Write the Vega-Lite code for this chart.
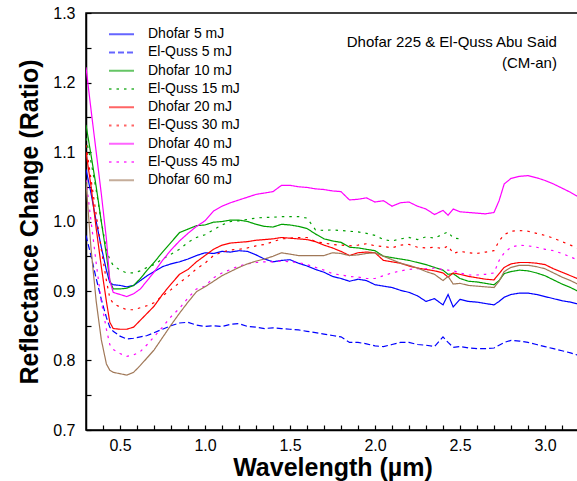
{
"$schema": "https://vega.github.io/schema/vega-lite/v6.json",
"autosize": "none",
"padding": {"left": 86, "top": 13, "right": 0, "bottom": 51},
"width": 493,
"height": 417,
"config": {"font": "Liberation Sans", "view": {"stroke": "black", "strokeWidth": 1.5}},
"layer": [
{
"data": {"values": [
{"series":"Dhofar 5 mJ","w":0.30,"r":1.075},{"series":"Dhofar 5 mJ","w":0.33,"r":1.04},{"series":"Dhofar 5 mJ","w":0.36,"r":1.0},{"series":"Dhofar 5 mJ","w":0.39,"r":0.963},{"series":"Dhofar 5 mJ","w":0.42,"r":0.93},{"series":"Dhofar 5 mJ","w":0.44,"r":0.912},{"series":"Dhofar 5 mJ","w":0.46,"r":0.909},{"series":"Dhofar 5 mJ","w":0.50,"r":0.908},{"series":"Dhofar 5 mJ","w":0.54,"r":0.906},{"series":"Dhofar 5 mJ","w":0.58,"r":0.908},{"series":"Dhofar 5 mJ","w":0.62,"r":0.915},{"series":"Dhofar 5 mJ","w":0.66,"r":0.922},{"series":"Dhofar 5 mJ","w":0.70,"r":0.928},{"series":"Dhofar 5 mJ","w":0.75,"r":0.935},{"series":"Dhofar 5 mJ","w":0.80,"r":0.939},{"series":"Dhofar 5 mJ","w":0.85,"r":0.942},{"series":"Dhofar 5 mJ","w":0.90,"r":0.946},{"series":"Dhofar 5 mJ","w":0.95,"r":0.951},{"series":"Dhofar 5 mJ","w":1.00,"r":0.955},{"series":"Dhofar 5 mJ","w":1.05,"r":0.954},{"series":"Dhofar 5 mJ","w":1.10,"r":0.957},{"series":"Dhofar 5 mJ","w":1.15,"r":0.956},{"series":"Dhofar 5 mJ","w":1.20,"r":0.958},{"series":"Dhofar 5 mJ","w":1.25,"r":0.957},{"series":"Dhofar 5 mJ","w":1.30,"r":0.952},{"series":"Dhofar 5 mJ","w":1.35,"r":0.946},{"series":"Dhofar 5 mJ","w":1.40,"r":0.942},{"series":"Dhofar 5 mJ","w":1.45,"r":0.944},{"series":"Dhofar 5 mJ","w":1.50,"r":0.945},{"series":"Dhofar 5 mJ","w":1.55,"r":0.94},{"series":"Dhofar 5 mJ","w":1.60,"r":0.936},{"series":"Dhofar 5 mJ","w":1.65,"r":0.931},{"series":"Dhofar 5 mJ","w":1.70,"r":0.927},{"series":"Dhofar 5 mJ","w":1.75,"r":0.921},{"series":"Dhofar 5 mJ","w":1.80,"r":0.918},{"series":"Dhofar 5 mJ","w":1.85,"r":0.914},{"series":"Dhofar 5 mJ","w":1.90,"r":0.917},{"series":"Dhofar 5 mJ","w":1.95,"r":0.915},{"series":"Dhofar 5 mJ","w":2.00,"r":0.909},{"series":"Dhofar 5 mJ","w":2.05,"r":0.907},{"series":"Dhofar 5 mJ","w":2.10,"r":0.905},{"series":"Dhofar 5 mJ","w":2.15,"r":0.901},{"series":"Dhofar 5 mJ","w":2.20,"r":0.898},{"series":"Dhofar 5 mJ","w":2.25,"r":0.893},{"series":"Dhofar 5 mJ","w":2.30,"r":0.885},{"series":"Dhofar 5 mJ","w":2.35,"r":0.889},{"series":"Dhofar 5 mJ","w":2.40,"r":0.88},{"series":"Dhofar 5 mJ","w":2.43,"r":0.895},{"series":"Dhofar 5 mJ","w":2.46,"r":0.877},{"series":"Dhofar 5 mJ","w":2.50,"r":0.888},{"series":"Dhofar 5 mJ","w":2.55,"r":0.885},{"series":"Dhofar 5 mJ","w":2.60,"r":0.884},{"series":"Dhofar 5 mJ","w":2.65,"r":0.882},{"series":"Dhofar 5 mJ","w":2.70,"r":0.88},{"series":"Dhofar 5 mJ","w":2.73,"r":0.885},{"series":"Dhofar 5 mJ","w":2.76,"r":0.891},{"series":"Dhofar 5 mJ","w":2.80,"r":0.895},{"series":"Dhofar 5 mJ","w":2.85,"r":0.897},{"series":"Dhofar 5 mJ","w":2.90,"r":0.897},{"series":"Dhofar 5 mJ","w":2.95,"r":0.895},{"series":"Dhofar 5 mJ","w":3.00,"r":0.892},{"series":"Dhofar 5 mJ","w":3.05,"r":0.889},{"series":"Dhofar 5 mJ","w":3.10,"r":0.886},{"series":"Dhofar 5 mJ","w":3.15,"r":0.884},{"series":"Dhofar 5 mJ","w":3.20,"r":0.881},
{"series":"El-Quss 5 mJ","w":0.30,"r":0.98},{"series":"El-Quss 5 mJ","w":0.33,"r":0.95},{"series":"El-Quss 5 mJ","w":0.36,"r":0.918},{"series":"El-Quss 5 mJ","w":0.39,"r":0.888},{"series":"El-Quss 5 mJ","w":0.42,"r":0.862},{"series":"El-Quss 5 mJ","w":0.44,"r":0.848},{"series":"El-Quss 5 mJ","w":0.46,"r":0.842},{"series":"El-Quss 5 mJ","w":0.50,"r":0.835},{"series":"El-Quss 5 mJ","w":0.54,"r":0.831},{"series":"El-Quss 5 mJ","w":0.58,"r":0.832},{"series":"El-Quss 5 mJ","w":0.62,"r":0.834},{"series":"El-Quss 5 mJ","w":0.66,"r":0.836},{"series":"El-Quss 5 mJ","w":0.70,"r":0.84},{"series":"El-Quss 5 mJ","w":0.75,"r":0.845},{"series":"El-Quss 5 mJ","w":0.80,"r":0.85},{"series":"El-Quss 5 mJ","w":0.85,"r":0.854},{"series":"El-Quss 5 mJ","w":0.90,"r":0.855},{"series":"El-Quss 5 mJ","w":0.95,"r":0.851},{"series":"El-Quss 5 mJ","w":1.00,"r":0.849},{"series":"El-Quss 5 mJ","w":1.05,"r":0.85},{"series":"El-Quss 5 mJ","w":1.10,"r":0.849},{"series":"El-Quss 5 mJ","w":1.15,"r":0.852},{"series":"El-Quss 5 mJ","w":1.20,"r":0.853},{"series":"El-Quss 5 mJ","w":1.25,"r":0.849},{"series":"El-Quss 5 mJ","w":1.30,"r":0.848},{"series":"El-Quss 5 mJ","w":1.35,"r":0.846},{"series":"El-Quss 5 mJ","w":1.40,"r":0.847},{"series":"El-Quss 5 mJ","w":1.45,"r":0.846},{"series":"El-Quss 5 mJ","w":1.50,"r":0.845},{"series":"El-Quss 5 mJ","w":1.55,"r":0.844},{"series":"El-Quss 5 mJ","w":1.60,"r":0.842},{"series":"El-Quss 5 mJ","w":1.65,"r":0.84},{"series":"El-Quss 5 mJ","w":1.70,"r":0.838},{"series":"El-Quss 5 mJ","w":1.75,"r":0.836},{"series":"El-Quss 5 mJ","w":1.80,"r":0.834},{"series":"El-Quss 5 mJ","w":1.85,"r":0.826},{"series":"El-Quss 5 mJ","w":1.90,"r":0.826},{"series":"El-Quss 5 mJ","w":1.95,"r":0.824},{"series":"El-Quss 5 mJ","w":2.00,"r":0.821},{"series":"El-Quss 5 mJ","w":2.05,"r":0.82},{"series":"El-Quss 5 mJ","w":2.10,"r":0.823},{"series":"El-Quss 5 mJ","w":2.15,"r":0.826},{"series":"El-Quss 5 mJ","w":2.20,"r":0.826},{"series":"El-Quss 5 mJ","w":2.25,"r":0.823},{"series":"El-Quss 5 mJ","w":2.30,"r":0.822},{"series":"El-Quss 5 mJ","w":2.35,"r":0.82},{"series":"El-Quss 5 mJ","w":2.40,"r":0.834},{"series":"El-Quss 5 mJ","w":2.43,"r":0.826},{"series":"El-Quss 5 mJ","w":2.46,"r":0.819},{"series":"El-Quss 5 mJ","w":2.50,"r":0.82},{"series":"El-Quss 5 mJ","w":2.55,"r":0.818},{"series":"El-Quss 5 mJ","w":2.60,"r":0.817},{"series":"El-Quss 5 mJ","w":2.65,"r":0.817},{"series":"El-Quss 5 mJ","w":2.70,"r":0.818},{"series":"El-Quss 5 mJ","w":2.73,"r":0.822},{"series":"El-Quss 5 mJ","w":2.76,"r":0.826},{"series":"El-Quss 5 mJ","w":2.80,"r":0.829},{"series":"El-Quss 5 mJ","w":2.85,"r":0.828},{"series":"El-Quss 5 mJ","w":2.90,"r":0.826},{"series":"El-Quss 5 mJ","w":2.95,"r":0.823},{"series":"El-Quss 5 mJ","w":3.00,"r":0.82},{"series":"El-Quss 5 mJ","w":3.05,"r":0.817},{"series":"El-Quss 5 mJ","w":3.10,"r":0.814},{"series":"El-Quss 5 mJ","w":3.15,"r":0.811},{"series":"El-Quss 5 mJ","w":3.20,"r":0.807},
{"series":"Dhofar 10 mJ","w":0.30,"r":1.139},{"series":"Dhofar 10 mJ","w":0.33,"r":1.095},{"series":"Dhofar 10 mJ","w":0.36,"r":1.05},{"series":"Dhofar 10 mJ","w":0.39,"r":1.0},{"series":"Dhofar 10 mJ","w":0.42,"r":0.952},{"series":"Dhofar 10 mJ","w":0.44,"r":0.915},{"series":"Dhofar 10 mJ","w":0.46,"r":0.903},{"series":"Dhofar 10 mJ","w":0.50,"r":0.903},{"series":"Dhofar 10 mJ","w":0.54,"r":0.904},{"series":"Dhofar 10 mJ","w":0.58,"r":0.908},{"series":"Dhofar 10 mJ","w":0.62,"r":0.918},{"series":"Dhofar 10 mJ","w":0.66,"r":0.93},{"series":"Dhofar 10 mJ","w":0.70,"r":0.941},{"series":"Dhofar 10 mJ","w":0.75,"r":0.956},{"series":"Dhofar 10 mJ","w":0.80,"r":0.97},{"series":"Dhofar 10 mJ","w":0.85,"r":0.984},{"series":"Dhofar 10 mJ","w":0.90,"r":0.989},{"series":"Dhofar 10 mJ","w":0.95,"r":0.994},{"series":"Dhofar 10 mJ","w":1.00,"r":0.995},{"series":"Dhofar 10 mJ","w":1.05,"r":0.999},{"series":"Dhofar 10 mJ","w":1.10,"r":1.0},{"series":"Dhofar 10 mJ","w":1.15,"r":1.002},{"series":"Dhofar 10 mJ","w":1.20,"r":1.002},{"series":"Dhofar 10 mJ","w":1.25,"r":1.0},{"series":"Dhofar 10 mJ","w":1.30,"r":0.996},{"series":"Dhofar 10 mJ","w":1.35,"r":0.993},{"series":"Dhofar 10 mJ","w":1.40,"r":0.992},{"series":"Dhofar 10 mJ","w":1.45,"r":0.996},{"series":"Dhofar 10 mJ","w":1.50,"r":0.995},{"series":"Dhofar 10 mJ","w":1.55,"r":0.993},{"series":"Dhofar 10 mJ","w":1.60,"r":0.99},{"series":"Dhofar 10 mJ","w":1.65,"r":0.982},{"series":"Dhofar 10 mJ","w":1.70,"r":0.975},{"series":"Dhofar 10 mJ","w":1.75,"r":0.972},{"series":"Dhofar 10 mJ","w":1.80,"r":0.97},{"series":"Dhofar 10 mJ","w":1.85,"r":0.963},{"series":"Dhofar 10 mJ","w":1.90,"r":0.962},{"series":"Dhofar 10 mJ","w":1.95,"r":0.96},{"series":"Dhofar 10 mJ","w":2.00,"r":0.958},{"series":"Dhofar 10 mJ","w":2.05,"r":0.95},{"series":"Dhofar 10 mJ","w":2.10,"r":0.948},{"series":"Dhofar 10 mJ","w":2.15,"r":0.946},{"series":"Dhofar 10 mJ","w":2.20,"r":0.944},{"series":"Dhofar 10 mJ","w":2.25,"r":0.941},{"series":"Dhofar 10 mJ","w":2.30,"r":0.938},{"series":"Dhofar 10 mJ","w":2.35,"r":0.934},{"series":"Dhofar 10 mJ","w":2.40,"r":0.93},{"series":"Dhofar 10 mJ","w":2.43,"r":0.924},{"series":"Dhofar 10 mJ","w":2.46,"r":0.925},{"series":"Dhofar 10 mJ","w":2.50,"r":0.918},{"series":"Dhofar 10 mJ","w":2.55,"r":0.914},{"series":"Dhofar 10 mJ","w":2.60,"r":0.913},{"series":"Dhofar 10 mJ","w":2.65,"r":0.911},{"series":"Dhofar 10 mJ","w":2.70,"r":0.909},{"series":"Dhofar 10 mJ","w":2.73,"r":0.915},{"series":"Dhofar 10 mJ","w":2.76,"r":0.925},{"series":"Dhofar 10 mJ","w":2.80,"r":0.928},{"series":"Dhofar 10 mJ","w":2.85,"r":0.93},{"series":"Dhofar 10 mJ","w":2.90,"r":0.929},{"series":"Dhofar 10 mJ","w":2.95,"r":0.926},{"series":"Dhofar 10 mJ","w":3.00,"r":0.922},{"series":"Dhofar 10 mJ","w":3.05,"r":0.916},{"series":"Dhofar 10 mJ","w":3.10,"r":0.91},{"series":"Dhofar 10 mJ","w":3.15,"r":0.905},{"series":"Dhofar 10 mJ","w":3.20,"r":0.899},
{"series":"El-Quss 15 mJ","w":0.30,"r":1.12},{"series":"El-Quss 15 mJ","w":0.33,"r":1.085},{"series":"El-Quss 15 mJ","w":0.36,"r":1.045},{"series":"El-Quss 15 mJ","w":0.39,"r":1.0},{"series":"El-Quss 15 mJ","w":0.42,"r":0.96},{"series":"El-Quss 15 mJ","w":0.44,"r":0.945},{"series":"El-Quss 15 mJ","w":0.46,"r":0.937},{"series":"El-Quss 15 mJ","w":0.50,"r":0.93},{"series":"El-Quss 15 mJ","w":0.54,"r":0.926},{"series":"El-Quss 15 mJ","w":0.58,"r":0.926},{"series":"El-Quss 15 mJ","w":0.62,"r":0.929},{"series":"El-Quss 15 mJ","w":0.66,"r":0.934},{"series":"El-Quss 15 mJ","w":0.70,"r":0.938},{"series":"El-Quss 15 mJ","w":0.75,"r":0.946},{"series":"El-Quss 15 mJ","w":0.80,"r":0.953},{"series":"El-Quss 15 mJ","w":0.85,"r":0.96},{"series":"El-Quss 15 mJ","w":0.90,"r":0.97},{"series":"El-Quss 15 mJ","w":0.95,"r":0.977},{"series":"El-Quss 15 mJ","w":1.00,"r":0.981},{"series":"El-Quss 15 mJ","w":1.05,"r":0.988},{"series":"El-Quss 15 mJ","w":1.10,"r":0.995},{"series":"El-Quss 15 mJ","w":1.15,"r":1.0},{"series":"El-Quss 15 mJ","w":1.20,"r":1.001},{"series":"El-Quss 15 mJ","w":1.25,"r":1.003},{"series":"El-Quss 15 mJ","w":1.30,"r":1.005},{"series":"El-Quss 15 mJ","w":1.35,"r":1.006},{"series":"El-Quss 15 mJ","w":1.40,"r":1.006},{"series":"El-Quss 15 mJ","w":1.45,"r":1.007},{"series":"El-Quss 15 mJ","w":1.50,"r":1.007},{"series":"El-Quss 15 mJ","w":1.55,"r":1.007},{"series":"El-Quss 15 mJ","w":1.60,"r":1.005},{"series":"El-Quss 15 mJ","w":1.65,"r":0.988},{"series":"El-Quss 15 mJ","w":1.70,"r":0.987},{"series":"El-Quss 15 mJ","w":1.75,"r":0.988},{"series":"El-Quss 15 mJ","w":1.80,"r":0.987},{"series":"El-Quss 15 mJ","w":1.85,"r":0.986},{"series":"El-Quss 15 mJ","w":1.90,"r":0.985},{"series":"El-Quss 15 mJ","w":1.95,"r":0.983},{"series":"El-Quss 15 mJ","w":2.00,"r":0.98},{"series":"El-Quss 15 mJ","w":2.05,"r":0.974},{"series":"El-Quss 15 mJ","w":2.10,"r":0.972},{"series":"El-Quss 15 mJ","w":2.15,"r":0.975},{"series":"El-Quss 15 mJ","w":2.20,"r":0.977},{"series":"El-Quss 15 mJ","w":2.25,"r":0.974},{"series":"El-Quss 15 mJ","w":2.30,"r":0.978},{"series":"El-Quss 15 mJ","w":2.35,"r":0.976},{"series":"El-Quss 15 mJ","w":2.40,"r":0.982},{"series":"El-Quss 15 mJ","w":2.43,"r":0.985},{"series":"El-Quss 15 mJ","w":2.46,"r":0.976},{"series":"El-Quss 15 mJ","w":2.50,"r":0.975},
{"series":"Dhofar 20 mJ","w":0.30,"r":1.1},{"series":"Dhofar 20 mJ","w":0.33,"r":1.05},{"series":"Dhofar 20 mJ","w":0.36,"r":0.99},{"series":"Dhofar 20 mJ","w":0.39,"r":0.935},{"series":"Dhofar 20 mJ","w":0.42,"r":0.885},{"series":"Dhofar 20 mJ","w":0.44,"r":0.855},{"series":"Dhofar 20 mJ","w":0.46,"r":0.846},{"series":"Dhofar 20 mJ","w":0.50,"r":0.845},{"series":"Dhofar 20 mJ","w":0.54,"r":0.845},{"series":"Dhofar 20 mJ","w":0.58,"r":0.848},{"series":"Dhofar 20 mJ","w":0.62,"r":0.858},{"series":"Dhofar 20 mJ","w":0.66,"r":0.868},{"series":"Dhofar 20 mJ","w":0.70,"r":0.878},{"series":"Dhofar 20 mJ","w":0.75,"r":0.895},{"series":"Dhofar 20 mJ","w":0.80,"r":0.91},{"series":"Dhofar 20 mJ","w":0.85,"r":0.924},{"series":"Dhofar 20 mJ","w":0.90,"r":0.931},{"series":"Dhofar 20 mJ","w":0.95,"r":0.942},{"series":"Dhofar 20 mJ","w":1.00,"r":0.951},{"series":"Dhofar 20 mJ","w":1.05,"r":0.96},{"series":"Dhofar 20 mJ","w":1.10,"r":0.966},{"series":"Dhofar 20 mJ","w":1.15,"r":0.969},{"series":"Dhofar 20 mJ","w":1.20,"r":0.97},{"series":"Dhofar 20 mJ","w":1.25,"r":0.971},{"series":"Dhofar 20 mJ","w":1.30,"r":0.973},{"series":"Dhofar 20 mJ","w":1.35,"r":0.974},{"series":"Dhofar 20 mJ","w":1.40,"r":0.975},{"series":"Dhofar 20 mJ","w":1.45,"r":0.977},{"series":"Dhofar 20 mJ","w":1.50,"r":0.976},{"series":"Dhofar 20 mJ","w":1.55,"r":0.975},{"series":"Dhofar 20 mJ","w":1.60,"r":0.974},{"series":"Dhofar 20 mJ","w":1.65,"r":0.971},{"series":"Dhofar 20 mJ","w":1.70,"r":0.966},{"series":"Dhofar 20 mJ","w":1.75,"r":0.962},{"series":"Dhofar 20 mJ","w":1.80,"r":0.957},{"series":"Dhofar 20 mJ","w":1.85,"r":0.951},{"series":"Dhofar 20 mJ","w":1.90,"r":0.955},{"series":"Dhofar 20 mJ","w":1.95,"r":0.956},{"series":"Dhofar 20 mJ","w":2.00,"r":0.955},{"series":"Dhofar 20 mJ","w":2.05,"r":0.944},{"series":"Dhofar 20 mJ","w":2.10,"r":0.942},{"series":"Dhofar 20 mJ","w":2.15,"r":0.94},{"series":"Dhofar 20 mJ","w":2.20,"r":0.936},{"series":"Dhofar 20 mJ","w":2.25,"r":0.933},{"series":"Dhofar 20 mJ","w":2.30,"r":0.931},{"series":"Dhofar 20 mJ","w":2.35,"r":0.929},{"series":"Dhofar 20 mJ","w":2.40,"r":0.926},{"series":"Dhofar 20 mJ","w":2.43,"r":0.92},{"series":"Dhofar 20 mJ","w":2.46,"r":0.926},{"series":"Dhofar 20 mJ","w":2.50,"r":0.924},{"series":"Dhofar 20 mJ","w":2.55,"r":0.921},{"series":"Dhofar 20 mJ","w":2.60,"r":0.919},{"series":"Dhofar 20 mJ","w":2.65,"r":0.917},{"series":"Dhofar 20 mJ","w":2.70,"r":0.916},{"series":"Dhofar 20 mJ","w":2.73,"r":0.925},{"series":"Dhofar 20 mJ","w":2.76,"r":0.934},{"series":"Dhofar 20 mJ","w":2.80,"r":0.939},{"series":"Dhofar 20 mJ","w":2.85,"r":0.941},{"series":"Dhofar 20 mJ","w":2.90,"r":0.941},{"series":"Dhofar 20 mJ","w":2.95,"r":0.94},{"series":"Dhofar 20 mJ","w":3.00,"r":0.938},{"series":"Dhofar 20 mJ","w":3.05,"r":0.932},{"series":"Dhofar 20 mJ","w":3.10,"r":0.927},{"series":"Dhofar 20 mJ","w":3.15,"r":0.922},{"series":"Dhofar 20 mJ","w":3.20,"r":0.917},
{"series":"El-Quss 30 mJ","w":0.30,"r":1.11},{"series":"El-Quss 30 mJ","w":0.33,"r":1.06},{"series":"El-Quss 30 mJ","w":0.36,"r":1.01},{"series":"El-Quss 30 mJ","w":0.39,"r":0.96},{"series":"El-Quss 30 mJ","w":0.42,"r":0.915},{"series":"El-Quss 30 mJ","w":0.44,"r":0.89},{"series":"El-Quss 30 mJ","w":0.46,"r":0.882},{"series":"El-Quss 30 mJ","w":0.50,"r":0.877},{"series":"El-Quss 30 mJ","w":0.54,"r":0.873},{"series":"El-Quss 30 mJ","w":0.58,"r":0.873},{"series":"El-Quss 30 mJ","w":0.62,"r":0.876},{"series":"El-Quss 30 mJ","w":0.66,"r":0.879},{"series":"El-Quss 30 mJ","w":0.70,"r":0.883},{"series":"El-Quss 30 mJ","w":0.75,"r":0.893},{"series":"El-Quss 30 mJ","w":0.80,"r":0.902},{"series":"El-Quss 30 mJ","w":0.85,"r":0.912},{"series":"El-Quss 30 mJ","w":0.90,"r":0.921},{"series":"El-Quss 30 mJ","w":0.95,"r":0.932},{"series":"El-Quss 30 mJ","w":1.00,"r":0.94},{"series":"El-Quss 30 mJ","w":1.05,"r":0.951},{"series":"El-Quss 30 mJ","w":1.10,"r":0.956},{"series":"El-Quss 30 mJ","w":1.15,"r":0.959},{"series":"El-Quss 30 mJ","w":1.20,"r":0.96},{"series":"El-Quss 30 mJ","w":1.25,"r":0.962},{"series":"El-Quss 30 mJ","w":1.30,"r":0.965},{"series":"El-Quss 30 mJ","w":1.35,"r":0.967},{"series":"El-Quss 30 mJ","w":1.40,"r":0.971},{"series":"El-Quss 30 mJ","w":1.45,"r":0.975},{"series":"El-Quss 30 mJ","w":1.50,"r":0.976},{"series":"El-Quss 30 mJ","w":1.55,"r":0.977},{"series":"El-Quss 30 mJ","w":1.60,"r":0.977},{"series":"El-Quss 30 mJ","w":1.65,"r":0.971},{"series":"El-Quss 30 mJ","w":1.70,"r":0.969},{"series":"El-Quss 30 mJ","w":1.75,"r":0.967},{"series":"El-Quss 30 mJ","w":1.80,"r":0.966},{"series":"El-Quss 30 mJ","w":1.85,"r":0.965},{"series":"El-Quss 30 mJ","w":1.90,"r":0.966},{"series":"El-Quss 30 mJ","w":1.95,"r":0.968},{"series":"El-Quss 30 mJ","w":2.00,"r":0.965},{"series":"El-Quss 30 mJ","w":2.05,"r":0.964},{"series":"El-Quss 30 mJ","w":2.10,"r":0.962},{"series":"El-Quss 30 mJ","w":2.15,"r":0.966},{"series":"El-Quss 30 mJ","w":2.20,"r":0.967},{"series":"El-Quss 30 mJ","w":2.25,"r":0.963},{"series":"El-Quss 30 mJ","w":2.30,"r":0.962},{"series":"El-Quss 30 mJ","w":2.35,"r":0.963},{"series":"El-Quss 30 mJ","w":2.40,"r":0.961},{"series":"El-Quss 30 mJ","w":2.43,"r":0.965},{"series":"El-Quss 30 mJ","w":2.46,"r":0.954},{"series":"El-Quss 30 mJ","w":2.50,"r":0.957},{"series":"El-Quss 30 mJ","w":2.55,"r":0.955},{"series":"El-Quss 30 mJ","w":2.60,"r":0.954},{"series":"El-Quss 30 mJ","w":2.65,"r":0.956},{"series":"El-Quss 30 mJ","w":2.70,"r":0.958},{"series":"El-Quss 30 mJ","w":2.73,"r":0.972},{"series":"El-Quss 30 mJ","w":2.76,"r":0.981},{"series":"El-Quss 30 mJ","w":2.80,"r":0.986},{"series":"El-Quss 30 mJ","w":2.85,"r":0.987},{"series":"El-Quss 30 mJ","w":2.90,"r":0.986},{"series":"El-Quss 30 mJ","w":2.95,"r":0.983},{"series":"El-Quss 30 mJ","w":3.00,"r":0.98},{"series":"El-Quss 30 mJ","w":3.05,"r":0.976},{"series":"El-Quss 30 mJ","w":3.10,"r":0.971},{"series":"El-Quss 30 mJ","w":3.15,"r":0.966},{"series":"El-Quss 30 mJ","w":3.20,"r":0.961},
{"series":"Dhofar 40 mJ","w":0.30,"r":1.222},{"series":"Dhofar 40 mJ","w":0.33,"r":1.16},{"series":"Dhofar 40 mJ","w":0.36,"r":1.1},{"series":"Dhofar 40 mJ","w":0.39,"r":1.04},{"series":"Dhofar 40 mJ","w":0.42,"r":0.975},{"series":"Dhofar 40 mJ","w":0.44,"r":0.915},{"series":"Dhofar 40 mJ","w":0.46,"r":0.898},{"series":"Dhofar 40 mJ","w":0.50,"r":0.895},{"series":"Dhofar 40 mJ","w":0.54,"r":0.892},{"series":"Dhofar 40 mJ","w":0.58,"r":0.896},{"series":"Dhofar 40 mJ","w":0.62,"r":0.903},{"series":"Dhofar 40 mJ","w":0.66,"r":0.915},{"series":"Dhofar 40 mJ","w":0.70,"r":0.927},{"series":"Dhofar 40 mJ","w":0.75,"r":0.944},{"series":"Dhofar 40 mJ","w":0.80,"r":0.959},{"series":"Dhofar 40 mJ","w":0.85,"r":0.972},{"series":"Dhofar 40 mJ","w":0.90,"r":0.983},{"series":"Dhofar 40 mJ","w":0.95,"r":0.993},{"series":"Dhofar 40 mJ","w":1.00,"r":1.001},{"series":"Dhofar 40 mJ","w":1.05,"r":1.015},{"series":"Dhofar 40 mJ","w":1.10,"r":1.022},{"series":"Dhofar 40 mJ","w":1.15,"r":1.027},{"series":"Dhofar 40 mJ","w":1.20,"r":1.031},{"series":"Dhofar 40 mJ","w":1.25,"r":1.035},{"series":"Dhofar 40 mJ","w":1.30,"r":1.039},{"series":"Dhofar 40 mJ","w":1.35,"r":1.041},{"series":"Dhofar 40 mJ","w":1.40,"r":1.043},{"series":"Dhofar 40 mJ","w":1.45,"r":1.052},{"series":"Dhofar 40 mJ","w":1.50,"r":1.052},{"series":"Dhofar 40 mJ","w":1.55,"r":1.05},{"series":"Dhofar 40 mJ","w":1.60,"r":1.049},{"series":"Dhofar 40 mJ","w":1.65,"r":1.047},{"series":"Dhofar 40 mJ","w":1.70,"r":1.046},{"series":"Dhofar 40 mJ","w":1.75,"r":1.044},{"series":"Dhofar 40 mJ","w":1.80,"r":1.043},{"series":"Dhofar 40 mJ","w":1.85,"r":1.031},{"series":"Dhofar 40 mJ","w":1.90,"r":1.032},{"series":"Dhofar 40 mJ","w":1.95,"r":1.034},{"series":"Dhofar 40 mJ","w":2.00,"r":1.028},{"series":"Dhofar 40 mJ","w":2.05,"r":1.03},{"series":"Dhofar 40 mJ","w":2.10,"r":1.022},{"series":"Dhofar 40 mJ","w":2.15,"r":1.027},{"series":"Dhofar 40 mJ","w":2.20,"r":1.028},{"series":"Dhofar 40 mJ","w":2.25,"r":1.022},{"series":"Dhofar 40 mJ","w":2.30,"r":1.018},{"series":"Dhofar 40 mJ","w":2.35,"r":1.01},{"series":"Dhofar 40 mJ","w":2.40,"r":1.016},{"series":"Dhofar 40 mJ","w":2.43,"r":1.009},{"series":"Dhofar 40 mJ","w":2.46,"r":1.018},{"series":"Dhofar 40 mJ","w":2.50,"r":1.014},{"series":"Dhofar 40 mJ","w":2.55,"r":1.013},{"series":"Dhofar 40 mJ","w":2.60,"r":1.012},{"series":"Dhofar 40 mJ","w":2.65,"r":1.011},{"series":"Dhofar 40 mJ","w":2.70,"r":1.013},{"series":"Dhofar 40 mJ","w":2.73,"r":1.03},{"series":"Dhofar 40 mJ","w":2.76,"r":1.054},{"series":"Dhofar 40 mJ","w":2.80,"r":1.062},{"series":"Dhofar 40 mJ","w":2.85,"r":1.065},{"series":"Dhofar 40 mJ","w":2.90,"r":1.066},{"series":"Dhofar 40 mJ","w":2.95,"r":1.063},{"series":"Dhofar 40 mJ","w":3.00,"r":1.059},{"series":"Dhofar 40 mJ","w":3.05,"r":1.054},{"series":"Dhofar 40 mJ","w":3.10,"r":1.048},{"series":"Dhofar 40 mJ","w":3.15,"r":1.042},{"series":"Dhofar 40 mJ","w":3.20,"r":1.035},
{"series":"El-Quss 45 mJ","w":0.30,"r":1.06},{"series":"El-Quss 45 mJ","w":0.33,"r":1.0},{"series":"El-Quss 45 mJ","w":0.36,"r":0.94},{"series":"El-Quss 45 mJ","w":0.39,"r":0.885},{"series":"El-Quss 45 mJ","w":0.42,"r":0.845},{"series":"El-Quss 45 mJ","w":0.44,"r":0.823},{"series":"El-Quss 45 mJ","w":0.46,"r":0.816},{"series":"El-Quss 45 mJ","w":0.50,"r":0.81},{"series":"El-Quss 45 mJ","w":0.54,"r":0.806},{"series":"El-Quss 45 mJ","w":0.58,"r":0.808},{"series":"El-Quss 45 mJ","w":0.62,"r":0.813},{"series":"El-Quss 45 mJ","w":0.66,"r":0.823},{"series":"El-Quss 45 mJ","w":0.70,"r":0.834},{"series":"El-Quss 45 mJ","w":0.75,"r":0.848},{"series":"El-Quss 45 mJ","w":0.80,"r":0.863},{"series":"El-Quss 45 mJ","w":0.85,"r":0.875},{"series":"El-Quss 45 mJ","w":0.90,"r":0.89},{"series":"El-Quss 45 mJ","w":0.95,"r":0.903},{"series":"El-Quss 45 mJ","w":1.00,"r":0.907},{"series":"El-Quss 45 mJ","w":1.05,"r":0.919},{"series":"El-Quss 45 mJ","w":1.10,"r":0.926},{"series":"El-Quss 45 mJ","w":1.15,"r":0.931},{"series":"El-Quss 45 mJ","w":1.20,"r":0.936},{"series":"El-Quss 45 mJ","w":1.25,"r":0.939},{"series":"El-Quss 45 mJ","w":1.30,"r":0.941},{"series":"El-Quss 45 mJ","w":1.35,"r":0.942},{"series":"El-Quss 45 mJ","w":1.40,"r":0.942},{"series":"El-Quss 45 mJ","w":1.45,"r":0.943},{"series":"El-Quss 45 mJ","w":1.50,"r":0.942},{"series":"El-Quss 45 mJ","w":1.55,"r":0.941},{"series":"El-Quss 45 mJ","w":1.60,"r":0.938},{"series":"El-Quss 45 mJ","w":1.65,"r":0.934},{"series":"El-Quss 45 mJ","w":1.70,"r":0.93},{"series":"El-Quss 45 mJ","w":1.75,"r":0.925},{"series":"El-Quss 45 mJ","w":1.80,"r":0.923},{"series":"El-Quss 45 mJ","w":1.85,"r":0.921},{"series":"El-Quss 45 mJ","w":1.90,"r":0.92},{"series":"El-Quss 45 mJ","w":1.95,"r":0.918},{"series":"El-Quss 45 mJ","w":2.00,"r":0.918},{"series":"El-Quss 45 mJ","w":2.05,"r":0.922},{"series":"El-Quss 45 mJ","w":2.10,"r":0.926},{"series":"El-Quss 45 mJ","w":2.15,"r":0.929},{"series":"El-Quss 45 mJ","w":2.20,"r":0.931},{"series":"El-Quss 45 mJ","w":2.25,"r":0.932},{"series":"El-Quss 45 mJ","w":2.30,"r":0.932},{"series":"El-Quss 45 mJ","w":2.35,"r":0.933},{"series":"El-Quss 45 mJ","w":2.40,"r":0.931},{"series":"El-Quss 45 mJ","w":2.43,"r":0.93},{"series":"El-Quss 45 mJ","w":2.46,"r":0.929},{"series":"El-Quss 45 mJ","w":2.50,"r":0.926},{"series":"El-Quss 45 mJ","w":2.55,"r":0.923},{"series":"El-Quss 45 mJ","w":2.60,"r":0.923},{"series":"El-Quss 45 mJ","w":2.65,"r":0.924},{"series":"El-Quss 45 mJ","w":2.70,"r":0.926},{"series":"El-Quss 45 mJ","w":2.73,"r":0.944},{"series":"El-Quss 45 mJ","w":2.76,"r":0.955},{"series":"El-Quss 45 mJ","w":2.80,"r":0.963},{"series":"El-Quss 45 mJ","w":2.85,"r":0.966},{"series":"El-Quss 45 mJ","w":2.90,"r":0.965},{"series":"El-Quss 45 mJ","w":2.95,"r":0.963},{"series":"El-Quss 45 mJ","w":3.00,"r":0.96},{"series":"El-Quss 45 mJ","w":3.05,"r":0.958},{"series":"El-Quss 45 mJ","w":3.10,"r":0.954},{"series":"El-Quss 45 mJ","w":3.15,"r":0.949},{"series":"El-Quss 45 mJ","w":3.20,"r":0.944},
{"series":"Dhofar 60 mJ","w":0.30,"r":1.057},{"series":"Dhofar 60 mJ","w":0.33,"r":0.96},{"series":"Dhofar 60 mJ","w":0.36,"r":0.885},{"series":"Dhofar 60 mJ","w":0.39,"r":0.83},{"series":"Dhofar 60 mJ","w":0.42,"r":0.795},{"series":"Dhofar 60 mJ","w":0.44,"r":0.786},{"series":"Dhofar 60 mJ","w":0.46,"r":0.783},{"series":"Dhofar 60 mJ","w":0.50,"r":0.781},{"series":"Dhofar 60 mJ","w":0.54,"r":0.779},{"series":"Dhofar 60 mJ","w":0.58,"r":0.783},{"series":"Dhofar 60 mJ","w":0.62,"r":0.793},{"series":"Dhofar 60 mJ","w":0.66,"r":0.804},{"series":"Dhofar 60 mJ","w":0.70,"r":0.815},{"series":"Dhofar 60 mJ","w":0.75,"r":0.833},{"series":"Dhofar 60 mJ","w":0.80,"r":0.851},{"series":"Dhofar 60 mJ","w":0.85,"r":0.868},{"series":"Dhofar 60 mJ","w":0.90,"r":0.884},{"series":"Dhofar 60 mJ","w":0.95,"r":0.899},{"series":"Dhofar 60 mJ","w":1.00,"r":0.906},{"series":"Dhofar 60 mJ","w":1.05,"r":0.914},{"series":"Dhofar 60 mJ","w":1.10,"r":0.922},{"series":"Dhofar 60 mJ","w":1.15,"r":0.928},{"series":"Dhofar 60 mJ","w":1.20,"r":0.934},{"series":"Dhofar 60 mJ","w":1.25,"r":0.939},{"series":"Dhofar 60 mJ","w":1.30,"r":0.943},{"series":"Dhofar 60 mJ","w":1.35,"r":0.946},{"series":"Dhofar 60 mJ","w":1.40,"r":0.95},{"series":"Dhofar 60 mJ","w":1.45,"r":0.955},{"series":"Dhofar 60 mJ","w":1.50,"r":0.953},{"series":"Dhofar 60 mJ","w":1.55,"r":0.951},{"series":"Dhofar 60 mJ","w":1.60,"r":0.951},{"series":"Dhofar 60 mJ","w":1.65,"r":0.951},{"series":"Dhofar 60 mJ","w":1.70,"r":0.951},{"series":"Dhofar 60 mJ","w":1.75,"r":0.955},{"series":"Dhofar 60 mJ","w":1.80,"r":0.954},{"series":"Dhofar 60 mJ","w":1.85,"r":0.951},{"series":"Dhofar 60 mJ","w":1.90,"r":0.952},{"series":"Dhofar 60 mJ","w":1.95,"r":0.954},{"series":"Dhofar 60 mJ","w":2.00,"r":0.955},{"series":"Dhofar 60 mJ","w":2.05,"r":0.95},{"series":"Dhofar 60 mJ","w":2.10,"r":0.945},{"series":"Dhofar 60 mJ","w":2.15,"r":0.94},{"series":"Dhofar 60 mJ","w":2.20,"r":0.937},{"series":"Dhofar 60 mJ","w":2.25,"r":0.933},{"series":"Dhofar 60 mJ","w":2.30,"r":0.928},{"series":"Dhofar 60 mJ","w":2.35,"r":0.924},{"series":"Dhofar 60 mJ","w":2.40,"r":0.915},{"series":"Dhofar 60 mJ","w":2.43,"r":0.921},{"series":"Dhofar 60 mJ","w":2.46,"r":0.91},{"series":"Dhofar 60 mJ","w":2.50,"r":0.911},{"series":"Dhofar 60 mJ","w":2.55,"r":0.908},{"series":"Dhofar 60 mJ","w":2.60,"r":0.907},{"series":"Dhofar 60 mJ","w":2.65,"r":0.906},{"series":"Dhofar 60 mJ","w":2.70,"r":0.905},{"series":"Dhofar 60 mJ","w":2.73,"r":0.914},{"series":"Dhofar 60 mJ","w":2.76,"r":0.928},{"series":"Dhofar 60 mJ","w":2.80,"r":0.934},{"series":"Dhofar 60 mJ","w":2.85,"r":0.937},{"series":"Dhofar 60 mJ","w":2.90,"r":0.937},{"series":"Dhofar 60 mJ","w":2.95,"r":0.935},{"series":"Dhofar 60 mJ","w":3.00,"r":0.932},{"series":"Dhofar 60 mJ","w":3.05,"r":0.926},{"series":"Dhofar 60 mJ","w":3.10,"r":0.92},{"series":"Dhofar 60 mJ","w":3.15,"r":0.915},{"series":"Dhofar 60 mJ","w":3.20,"r":0.909}
]},
"mark": {"type": "line", "strokeWidth": 1.2, "clip": true},
"encoding": {
"x": {"field": "w", "type": "quantitative", "scale": {"domain": [0.3, 3.2], "nice": false, "zero": false},
 "axis": {"title": "Wavelength (µm)", "titleFontSize": 25, "titleFontWeight": "bold", "titleColor": "black", "titlePadding": 2,
  "values": [0.4,0.5,0.6,0.7,0.8,0.9,1.0,1.1,1.2,1.3,1.4,1.5,1.6,1.7,1.8,1.9,2.0,2.1,2.2,2.3,2.4,2.5,2.6,2.7,2.8,2.9,3.0,3.1],
  "tickCount": 100,
  "labelExpr": "abs(datum.value*2 - round(datum.value*2)) < 0.01 ? format(datum.value, '.1f') : ''",
  "labelFontSize": 16, "labelColor": "black", "labelFlush": false, "labelOverlap": false, "labelPadding": 12,
  "tickSize": -5, "tickColor": "black", "tickWidth": 1.2, "domainColor": "black", "domainWidth": 1.5, "grid": false}},
"y": {"field": "r", "type": "quantitative", "scale": {"domain": [0.7, 1.3], "nice": false, "zero": false},
 "axis": {"title": "Reflectance Change (Ratio)", "titleFontSize": 25, "titleFontWeight": "bold", "titleColor": "black", "titlePadding": 10,
  "values": [0.7,0.75,0.8,0.85,0.9,0.95,1.0,1.05,1.1,1.15,1.2,1.25,1.3],
  "tickCount": 100,
  "labelExpr": "abs(datum.value*10 - round(datum.value*10)) < 0.01 ? format(datum.value, '.1f') : ''",
  "labelFontSize": 16, "labelColor": "black", "labelFlush": false, "labelOverlap": false, "labelPadding": 16,
  "tickSize": -5, "tickColor": "black", "tickWidth": 1.2, "domainColor": "black", "domainWidth": 1.5, "grid": false}},
"color": {"field": "series", "type": "nominal", "sort": null,
 "scale": {"domain": ["Dhofar 5 mJ","El-Quss 5 mJ","Dhofar 10 mJ","El-Quss 15 mJ","Dhofar 20 mJ","El-Quss 30 mJ","Dhofar 40 mJ","El-Quss 45 mJ","Dhofar 60 mJ"],
  "range": ["#0000ff","#0000ff","#00a000","#00a000","#ff0000","#ff0000","#ff00ff","#ff00ff","#a07858"]},
 "legend": {"title": null, "orient": "none", "legendX": 22, "legendY": 13, "symbolType": "stroke", "symbolSize": 625, "symbolStrokeWidth": 2, "symbolOpacity": 0.6, "labelFontSize": 14, "labelColor": "black", "clipHeight": 16.25, "rowPadding": 1.25, "padding": 0, "labelLimit": 200, "labelOffset": 13}},
"strokeDash": {"field": "series", "type": "nominal", "sort": null,
 "scale": {"domain": ["Dhofar 5 mJ","El-Quss 5 mJ","Dhofar 10 mJ","El-Quss 15 mJ","Dhofar 20 mJ","El-Quss 30 mJ","Dhofar 40 mJ","El-Quss 45 mJ","Dhofar 60 mJ"],
  "range": [[1,0],[6,3],[1,0],[2.5,5],[1,0],[2.5,5],[1,0],[2.5,5],[1,0]]},
 "legend": {"title": null, "orient": "none", "legendX": 22, "legendY": 13, "symbolType": "stroke", "symbolSize": 625, "symbolStrokeWidth": 2, "symbolOpacity": 0.6, "labelFontSize": 14, "labelColor": "black", "clipHeight": 16.25, "rowPadding": 1.25, "padding": 0, "labelLimit": 200, "labelOffset": 13}}
}
},
{
"data": {"values": [{"note": ["Dhofar 225 & El-Quss Abu Said", "(CM-an)"]}]},
"mark": {"type": "text", "align": "right", "baseline": "middle", "fontSize": 15, "lineHeight": 21, "color": "black"},
"encoding": {"x": {"datum": 3.07}, "y": {"datum": 1.258}, "text": {"field": "note"}}
}
]
}
